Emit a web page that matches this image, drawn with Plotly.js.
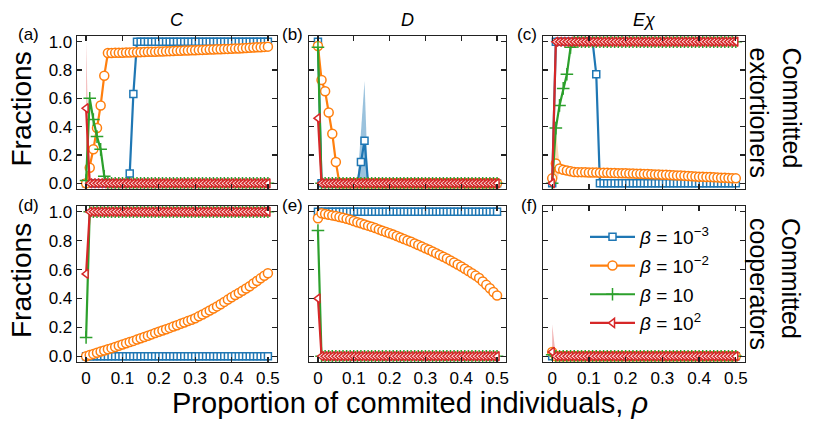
<!DOCTYPE html>
<html>
<head>
<meta charset="utf-8">
<script src="https://cdn.plot.ly/plotly-3.0.1.min.js"></script>
<style>
  body { margin: 0; background: #fff; }
  #chart { width: 813px; height: 433px; }
</style>
</head>
<body>
<div id="chart"></div>
<script>
// proportion of committed individuals
const rho = [
  0, 0.01, 0.02, 0.03, 0.04, 0.05, 0.06, 0.07, 0.08, 0.09,
  0.1, 0.11, 0.12, 0.13, 0.14, 0.15, 0.16, 0.17, 0.18, 0.19,
  0.2, 0.21, 0.22, 0.23, 0.24, 0.25, 0.26, 0.27, 0.28, 0.29,
  0.3, 0.31, 0.32, 0.33, 0.34, 0.35, 0.36, 0.37, 0.38, 0.39,
  0.4, 0.41, 0.42, 0.43, 0.44, 0.45, 0.46, 0.47, 0.48, 0.49,
  0.5];

const betaNames = ['<i>β</i> = 10<sup>−3</sup>', '<i>β</i> = 10<sup>−2</sup>',
                   '<i>β</i> = 10', '<i>β</i> = 10<sup>2</sup>'];
const colTitles = ['<i>C</i>', '<i>D</i>', '<i>Eχ</i>'];
const panelTags = ['(a)', '(b)', '(c)', '(d)', '(e)', '(f)'];
const rowTitles = ['Committed<br>extortioners', 'Committed<br>cooperators'];
const xTickVals = [0, 0.1, 0.2, 0.3, 0.4, 0.5];
const xTickText = ['0', '0.1', '0.2', '0.3', '0.4', '0.5'];
const yTickVals = [0, 0.2, 0.4, 0.6, 0.8, 1.0];

// (a) C, committed extortioners
const aBlue = [
  0,0,0,0,0,0,0,0,0,0,
  0,0,0.07,0.63,1,1,1,1,1,1,
  1,1,1,1,1,1,1,1,1,1,
  1,1,1,1,1,1,1,1,1,1,
  1,1,1,1,1,1,1,1,1,1,
  1];
const aOrange = [
  0,0.11,0.24,0.39,0.55,0.76,0.92,0.92,0.921,0.922,
  0.922,0.923,0.924,0.925,0.925,0.926,0.927,0.928,0.929,0.929,
  0.93,0.931,0.932,0.933,0.934,0.935,0.936,0.937,0.938,0.939,
  0.94,0.941,0.942,0.943,0.944,0.945,0.946,0.947,0.948,0.949,
  0.95,0.951,0.952,0.953,0.955,0.957,0.958,0.96,0.961,0.963,
  0.965];
const aGreen = [
  0.02,0.6,0.45,0.33,0.24,0.05,0,0,0,0,
  0,0,0,0,0,0,0,0,0,0,
  0,0,0,0,0,0,0,0,0,0,
  0,0,0,0,0,0,0,0,0,0,
  0,0,0,0,0,0,0,0,0,0,
  0];
const aRed = [
  0.53,0,0,0,0,0,0,0,0,0,
  0,0,0,0,0,0,0,0,0,0,
  0,0,0,0,0,0,0,0,0,0,
  0,0,0,0,0,0,0,0,0,0,
  0,0,0,0,0,0,0,0,0,0,
  0];

// (b) D, committed extortioners
const bBlue = [
  1,0,0,0,0,0,0,0,0,0,
  0,0,0.15,0.3,0,0,0,0,0,0,
  0,0,0,0,0,0,0,0,0,0,
  0,0,0,0,0,0,0,0,0,0,
  0,0,0,0,0,0,0,0,0,0,
  0];
const bOrange = [
  0.97,0.73,0.65,0.5,0.35,0.15,0,0,0,0,
  0,0,0,0,0,0,0,0,0,0,
  0,0,0,0,0,0,0,0,0,0,
  0,0,0,0,0,0,0,0,0,0,
  0,0,0,0,0,0,0,0,0,0,
  0];
const bGreen = [
  0.96,0,0,0,0,0,0,0,0,0,
  0,0,0,0,0,0,0,0,0,0,
  0,0,0,0,0,0,0,0,0,0,
  0,0,0,0,0,0,0,0,0,0,
  0,0,0,0,0,0,0,0,0,0,
  0];
const bRed = [
  0.46,0,0,0,0,0,0,0,0,0,
  0,0,0,0,0,0,0,0,0,0,
  0,0,0,0,0,0,0,0,0,0,
  0,0,0,0,0,0,0,0,0,0,
  0,0,0,0,0,0,0,0,0,0,
  0];

// (c) E-chi, committed extortioners
const cBlue = [
  0,1,1,1,1,1,1,1,1,1,
  1,1,0.77,0,0,0,0,0,0,0,
  0,0,0,0,0,0,0,0,0,0,
  0,0,0,0,0,0,0,0,0,0,
  0,0,0,0,0,0,0,0,0,0,
  0];
const cOrange = [
  0.035,0.14,0.105,0.095,0.09,0.085,0.08,0.079,0.079,0.078,
  0.077,0.077,0.076,0.075,0.075,0.074,0.073,0.073,0.072,0.071,
  0.071,0.07,0.069,0.068,0.067,0.066,0.065,0.064,0.063,0.062,
  0.061,0.06,0.058,0.057,0.056,0.055,0.053,0.052,0.05,0.048,
  0.047,0.046,0.045,0.044,0.043,0.042,0.04,0.039,0.038,0.036,
  0.035];
const cGreen = [
  0,0.39,0.55,0.67,0.77,0.96,1,1,1,1,
  1,1,1,1,1,1,1,1,1,1,
  1,1,1,1,1,1,1,1,1,1,
  1,1,1,1,1,1,1,1,1,1,
  1,1,1,1,1,1,1,1,1,1,
  1];
const cRed = [
  0,1,1,1,1,1,1,1,1,1,
  1,1,1,1,1,1,1,1,1,1,
  1,1,1,1,1,1,1,1,1,1,
  1,1,1,1,1,1,1,1,1,1,
  1,1,1,1,1,1,1,1,1,1,
  1];

// (d) C, committed cooperators
const dBlue = [
  0,0,0,0,0,0,0,0,0,0,
  0,0,0,0,0,0,0,0,0,0,
  0,0,0,0,0,0,0,0,0,0,
  0,0,0,0,0,0,0,0,0,0,
  0,0,0,0,0,0,0,0,0,0,
  0];
const dOrange = [
  0,0.008,0.016,0.024,0.032,0.04,0.048,0.056,0.064,0.072,
  0.081,0.089,0.098,0.106,0.115,0.124,0.133,0.142,0.151,0.16,
  0.169,0.178,0.187,0.196,0.205,0.215,0.224,0.234,0.243,0.253,
  0.263,0.276,0.289,0.302,0.316,0.33,0.345,0.36,0.376,0.392,
  0.408,0.423,0.438,0.453,0.469,0.485,0.503,0.521,0.539,0.557,
  0.575];
const dGreen = [
  0.13,1,1,1,1,1,1,1,1,1,
  1,1,1,1,1,1,1,1,1,1,
  1,1,1,1,1,1,1,1,1,1,
  1,1,1,1,1,1,1,1,1,1,
  1,1,1,1,1,1,1,1,1,1,
  1];
const dRed = [
  0.57,1,1,1,1,1,1,1,1,1,
  1,1,1,1,1,1,1,1,1,1,
  1,1,1,1,1,1,1,1,1,1,
  1,1,1,1,1,1,1,1,1,1,
  1,1,1,1,1,1,1,1,1,1,
  1];

// (e) D, committed cooperators
const eBlue = [
  1,1,1,1,1,1,1,1,1,1,
  1,1,1,1,1,1,1,1,1,1,
  1,1,1,1,1,1,1,1,1,1,
  1,1,1,1,1,1,1,1,1,1,
  1,1,1,1,1,1,1,1,1,1,
  1];
const eOrange = [
  0.955,0.99,0.985,0.98,0.975,0.97,0.964,0.958,0.951,0.944,
  0.936,0.928,0.92,0.912,0.904,0.896,0.887,0.878,0.869,0.86,
  0.851,0.842,0.832,0.822,0.812,0.802,0.792,0.781,0.77,0.759,
  0.748,0.737,0.725,0.713,0.701,0.689,0.676,0.663,0.649,0.635,
  0.621,0.606,0.59,0.574,0.558,0.541,0.518,0.494,0.47,0.445,
  0.42];
const eGreen = [
  0.87,0,0,0,0,0,0,0,0,0,
  0,0,0,0,0,0,0,0,0,0,
  0,0,0,0,0,0,0,0,0,0,
  0,0,0,0,0,0,0,0,0,0,
  0,0,0,0,0,0,0,0,0,0,
  0];
const eRed = [
  0.4,0,0,0,0,0,0,0,0,0,
  0,0,0,0,0,0,0,0,0,0,
  0,0,0,0,0,0,0,0,0,0,
  0,0,0,0,0,0,0,0,0,0,
  0,0,0,0,0,0,0,0,0,0,
  0];

// (f) E-chi, committed cooperators
const fBlue = [
  0,0,0,0,0,0,0,0,0,0,
  0,0,0,0,0,0,0,0,0,0,
  0,0,0,0,0,0,0,0,0,0,
  0,0,0,0,0,0,0,0,0,0,
  0,0,0,0,0,0,0,0,0,0,
  0];
const fOrange = [
  0.03,0,0,0,0,0,0,0,0,0,
  0,0,0,0,0,0,0,0,0,0,
  0,0,0,0,0,0,0,0,0,0,
  0,0,0,0,0,0,0,0,0,0,
  0,0,0,0,0,0,0,0,0,0,
  0];
const fGreen = [
  0.01,0,0,0,0,0,0,0,0,0,
  0,0,0,0,0,0,0,0,0,0,
  0,0,0,0,0,0,0,0,0,0,
  0,0,0,0,0,0,0,0,0,0,
  0,0,0,0,0,0,0,0,0,0,
  0];
const fRed = [
  0.03,0,0,0,0,0,0,0,0,0,
  0,0,0,0,0,0,0,0,0,0,
  0,0,0,0,0,0,0,0,0,0,
  0,0,0,0,0,0,0,0,0,0,
  0,0,0,0,0,0,0,0,0,0,
  0];

// spread bands (only where they are visible)
const aRedBandX = [0, 0.01];
const aRedBandLo = [0.06, 0];
const aRedBandHi = [1.0, 0.02];
const bBlueBandX = [0.11, 0.12, 0.13, 0.14];
const bBlueBandLo = [0, 0, 0, 0];
const bBlueBandHi = [0, 0.4, 0.72, 0];
const cOrangeBandX = [0, 0.01, 0.02];
const cOrangeBandLo = [0, 0, 0.08];
const cOrangeBandHi = [0.08, 0.38, 0.13];
const fRedBandX = [0, 0.01];
const fRedBandLo = [0, 0];
const fRedBandHi = [0.22, 0.01];

const panels = [
  [aBlue, aOrange, aGreen, aRed],
  [bBlue, bOrange, bGreen, bRed],
  [cBlue, cOrange, cGreen, cRed],
  [dBlue, dOrange, dGreen, dRed],
  [eBlue, eOrange, eGreen, eRed],
  [fBlue, fOrange, fGreen, fRed]
];
const bands = [
  {panel: 0, x: aRedBandX, lo: aRedBandLo, hi: aRedBandHi, fill: 'rgba(214,39,40,0.3)'},
  {panel: 1, x: bBlueBandX, lo: bBlueBandLo, hi: bBlueBandHi, fill: 'rgba(31,119,180,0.45)'},
  {panel: 2, x: cOrangeBandX, lo: cOrangeBandLo, hi: cOrangeBandHi, fill: 'rgba(255,127,14,0.3)'},
  {panel: 5, x: fRedBandX, lo: fRedBandLo, hi: fRedBandHi, fill: 'rgba(214,39,40,0.35)'}
];

const W = 813, H = 433;
const FONT = 'Liberation Sans, Arial, sans-serif';
const colPx = [[77, 277], [309, 506], [543, 745]];
const rowPx = [[36, 189], [206, 362]];
const colors = ['#1f77b4', '#ff7f0e', '#2ca02c', '#d62728'];
const markers = [
  {symbol: 'square', size: 7, color: 'white', line: {color: colors[0], width: 1.5}},
  {symbol: 'circle', size: 9, color: 'white', line: {color: colors[1], width: 1.5}},
  {symbol: 'cross-thin', size: 9, color: colors[2], line: {color: colors[2], width: 1.5}},
  {symbol: 'triangle-left', size: 8, color: 'white', line: {color: colors[3], width: 1.5}}
];

let data = [];

bands.forEach(function (b) {
  const n = b.panel + 1;
  data.push({
    x: b.x.concat(b.x.slice().reverse()),
    y: b.hi.concat(b.lo.slice().reverse()),
    xaxis: 'x' + n, yaxis: 'y' + n,
    type: 'scatter', mode: 'lines', fill: 'toself',
    fillcolor: b.fill, line: {width: 0},
    hoverinfo: 'skip', showlegend: false
  });
});

panels.forEach(function (series, p) {
  const n = p + 1;
  series.forEach(function (vals, s) {
    data.push({
      x: rho, y: vals,
      xaxis: 'x' + n, yaxis: 'y' + n,
      type: 'scatter', mode: 'lines+markers',
      name: betaNames[s],
      legendgroup: 'g' + s,
      showlegend: p === 5,
      line: {color: colors[s], width: 2.2},
      marker: markers[s]
    });
  });
});

let layout = {
  width: W, height: H,
  margin: {l: 0, r: 0, t: 0, b: 0},
  paper_bgcolor: 'white', plot_bgcolor: 'white',
  font: {family: FONT, color: 'black', size: 17},
  showlegend: true,
  legend: {
    x: 585 / W, xanchor: 'left',
    y: 1 - 218 / H, yanchor: 'top',
    bgcolor: 'rgba(0,0,0,0)',
    font: {family: FONT, size: 19},
    traceorder: 'grouped',
    tracegroupgap: 1,
    itemwidth: 45
  },
  annotations: []
};

for (let p = 0; p < 6; p++) {
  const row = Math.floor(p / 3), col = p % 3, n = p + 1;
  const sfx = n === 1 ? '' : n;
  layout['xaxis' + sfx] = {
    domain: [colPx[col][0] / W, colPx[col][1] / W],
    anchor: 'y' + n,
    range: [-0.025, 0.525],
    tickvals: xTickVals, ticktext: xTickText,
    showticklabels: row === 1,
    ticks: 'inside', ticklen: 5, tickwidth: 1.2, tickcolor: '#222',
    showline: true, linecolor: '#222', linewidth: 1.3, mirror: 'ticks',
    showgrid: false, zeroline: false, fixedrange: true,
    tickfont: {size: 17}
  };
  layout['yaxis' + sfx] = {
    domain: [1 - rowPx[row][1] / H, 1 - rowPx[row][0] / H],
    anchor: 'x' + n,
    range: [-0.04, 1.04],
    tickvals: yTickVals, tickformat: '.1f',
    showticklabels: col === 0,
    ticks: 'inside', ticklen: 5, tickwidth: 1.2, tickcolor: '#222',
    showline: true, linecolor: '#222', linewidth: 1.3, mirror: 'ticks',
    showgrid: false, zeroline: false, fixedrange: true,
    tickfont: {size: 17}
  };
  // panel tag
  const tagRight = col === 0 ? 41 : colPx[col][0] - 4;
  layout.annotations.push({
    text: panelTags[p], xref: 'paper', yref: 'paper',
    x: tagRight / W, y: 1 - (rowPx[row][0] - 1) / H,
    xanchor: 'right', yanchor: 'middle', showarrow: false,
    font: {size: 17}
  });
}

colTitles.forEach(function (t, c) {
  layout.annotations.push({
    text: t, xref: 'paper', yref: 'paper',
    x: (colPx[c][0] + colPx[c][1]) / 2 / W, y: 1 - 20 / H,
    xanchor: 'center', yanchor: 'middle', showarrow: false,
    font: {size: 18}
  });
});

rowTitles.forEach(function (t, r) {
  const yc = (rowPx[r][0] + rowPx[r][1]) / 2;
  layout.annotations.push({
    text: 'Fractions', xref: 'paper', yref: 'paper',
    x: 21 / W, y: 1 - (yc - 3) / H, textangle: -90,
    xanchor: 'center', yanchor: 'middle', showarrow: false,
    font: {size: 28}
  });
  layout.annotations.push({
    text: t, xref: 'paper', yref: 'paper',
    x: 775 / W, y: 1 - yc / H, textangle: 90, align: 'left',
    xanchor: 'center', yanchor: 'middle', showarrow: false,
    font: {size: 25}
  });
});

layout.annotations.push({
  text: 'Proportion of commited individuals, <i>ρ</i>',
  xref: 'paper', yref: 'paper',
  x: 410 / W, y: 1 - 403 / H,
  xanchor: 'center', yanchor: 'middle', showarrow: false,
  font: {size: 29}
});

Plotly.newPlot('chart', data, layout, {displayModeBar: false, staticPlot: true});
</script>
</body>
</html>
